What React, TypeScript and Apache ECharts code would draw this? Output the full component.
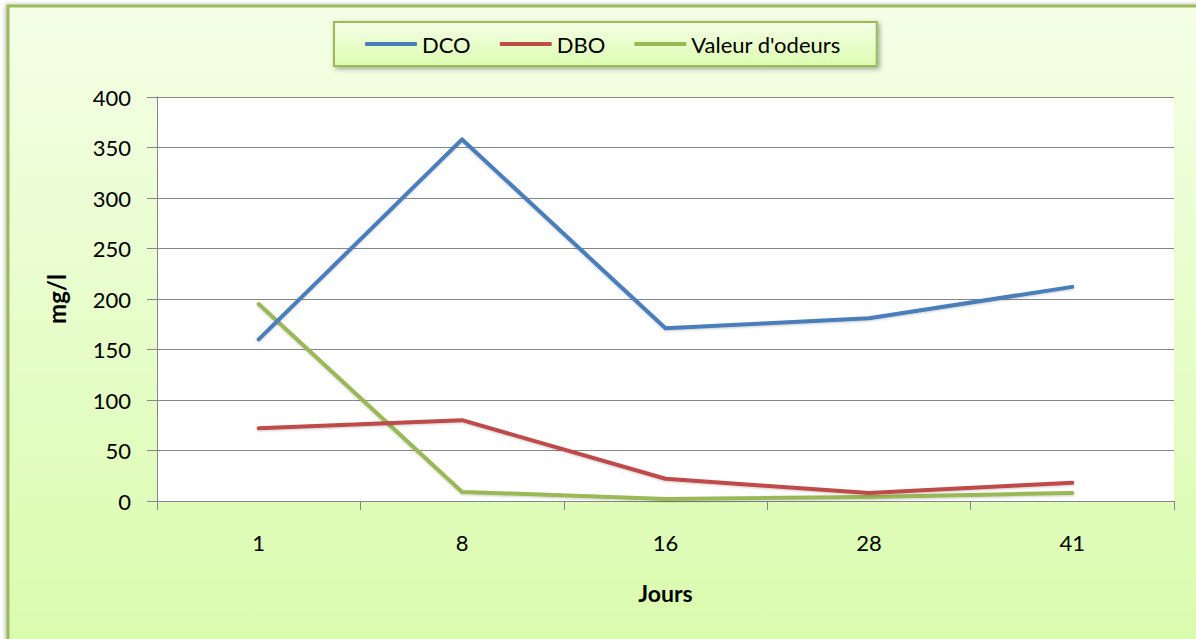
import React, { useEffect, useRef } from "react";
import * as echarts from "echarts";

const categories = ["1", "8", "16", "28", "41"];
const dco = [160, 358, 171, 181, 212];
const dbo = [72, 80, 22, 8, 18];
const odeurs = [195, 9, 2, 4, 8];
const seriesNames = ["DCO", "DBO", "Valeur d'odeurs"];
const seriesColors = ["#4a7ebb", "#be4b48", "#98b954"];

const FONT = "Lato, 'Noto Sans', sans-serif";

export default function App() {
  const ref = useRef<HTMLDivElement>(null);
  useEffect(() => {
    if (!ref.current) return;
    const chart = echarts.init(ref.current, undefined, { renderer: "svg" });
    const values = [dco, dbo, odeurs];
    chart.setOption({
      animation: false,
      backgroundColor: "#ffffff",
      graphic: [
        {
          type: "rect",
          z: -100,
          silent: true,
          shape: { x: 8, y: 6, width: 1260, height: 720 },
          style: {
            fill: new echarts.graphic.LinearGradient(0, 0, 0, 1, [
              { offset: 0, color: "#f4ffe6" },
              { offset: 1, color: "#d6fba6" },
            ]),
            stroke: "#9bbb59",
            lineWidth: 3,
            shadowBlur: 4,
            shadowColor: "rgba(0,0,0,0.3)",
            shadowOffsetX: -1,
          },
        },
      ],
      legend: {
        left: 334,
        top: 22,
        padding: [11, 36, 11, 31],
        itemGap: 29,
        itemWidth: 52,
        itemHeight: 4,
        icon: "roundRect",
        data: seriesNames,
        textStyle: { fontFamily: FONT, fontSize: 22, color: "#000" },
        borderColor: "#9bbb59",
        borderWidth: 2,
        backgroundColor: new echarts.graphic.LinearGradient(0, 0, 0, 1, [
          { offset: 0, color: "#f4ffe6" },
          { offset: 1, color: "#dcfcb0" },
        ]),
        shadowBlur: 5,
        shadowColor: "rgba(0,0,0,0.35)",
        shadowOffsetX: 2,
        shadowOffsetY: 2,
      },
      grid: {
        left: 157,
        right: 22,
        top: 97,
        bottom: 138,
        show: true,
        backgroundColor: "#ffffff",
        borderWidth: 0,
      },
      xAxis: {
        type: "category",
        data: categories,
        boundaryGap: true,
        name: "Jours",
        nameLocation: "middle",
        nameGap: 80,
        nameTextStyle: { fontFamily: FONT, fontSize: 23, fontWeight: "bold", color: "#000" },
        axisLine: { show: true, lineStyle: { color: "#868686", width: 1 } },
        axisTick: { show: true, length: 9, alignWithLabel: false, lineStyle: { color: "#868686" } },
        axisLabel: { margin: 30, fontFamily: FONT, fontSize: 22, color: "#000" },
        splitLine: { show: false },
      },
      yAxis: {
        type: "value",
        min: 0,
        max: 400,
        interval: 50,
        name: "mg/l",
        nameLocation: "middle",
        nameRotate: 90,
        nameGap: 89,
        nameTextStyle: { fontFamily: FONT, fontSize: 24, fontWeight: "bold", color: "#000" },
        axisLine: { show: true, lineStyle: { color: "#868686", width: 1 } },
        axisTick: { show: true, length: 10, lineStyle: { color: "#868686" } },
        axisLabel: { margin: 26, fontFamily: FONT, fontSize: 22, color: "#000" },
        splitLine: { show: true, lineStyle: { color: "#868686", width: 1 } },
      },
      series: seriesNames.map((name, i) => ({
        name,
        type: "line",
        data: values[i],
        showSymbol: false,
        symbol: "none",
        color: seriesColors[i],
        lineStyle: {
          width: 4,
          color: seriesColors[i],
          cap: "round",
          join: "round",
          shadowColor: "rgba(0,0,0,0.2)",
          shadowBlur: 2,
          shadowOffsetY: 1,
        },
        z: 3 + (2 - i),
      })),
    });
    return () => chart.dispose();
  }, []);
  return (
    <div
      ref={ref}
      style={{ position: "fixed", left: 0, top: 0, width: 1196, height: 639 }}
    />
  );
}
